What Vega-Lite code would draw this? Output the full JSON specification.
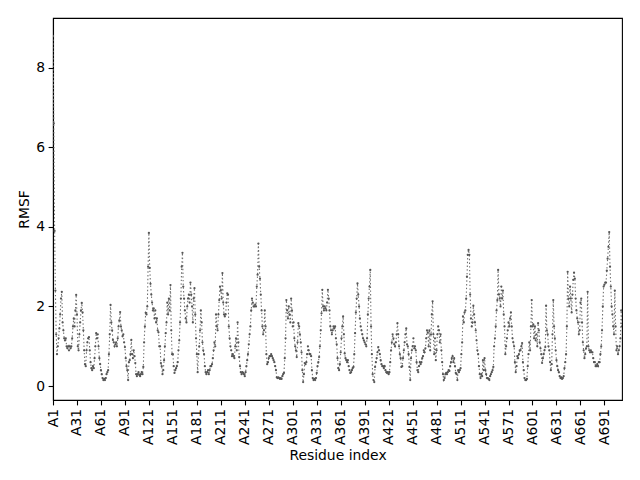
{
"$schema": "https://vega.github.io/schema/vega-lite/v6.json",
"width": 569, "height": 382,
"autosize": {"type": "none"},
"padding": {"left": 53, "top": 18, "right": 18, "bottom": 80},
"background": "white",
"config": {"font": "DejaVu Sans", "view": {"stroke": "black", "strokeWidth": 1.1},
 "axis": {"grid": false, "domainColor": "black", "domainWidth": 1.1, "tickColor": "black", "tickWidth": 1.1, "tickSize": 4.9, "labelColor": "black", "titleColor": "black", "labelFontSize": 13.9, "titleFontSize": 13.9, "titleFontWeight": "normal", "labelPadding": 3.5, "titlePadding": 4}},
"data": {"values": [
{"r":1,"v":8.8},{"r":2,"v":6.6},{"r":3,"v":3.9},{"r":4,"v":2.4},{"r":5,"v":1.3},{"r":6,"v":0.8},{"r":7,"v":1.0},{"r":8,"v":1.2},{"r":9,"v":1.45},{"r":10,"v":1.8},
{"r":11,"v":2.2},{"r":12,"v":2.37},{"r":13,"v":1.6},{"r":14,"v":1.4},{"r":15,"v":1.2},{"r":16,"v":1.15},{"r":17,"v":1.2},{"r":18,"v":1.0},{"r":19,"v":0.95},{"r":20,"v":1.0},
{"r":21,"v":0.9},{"r":22,"v":1.0},{"r":23,"v":0.95},{"r":24,"v":1.0},{"r":25,"v":1.2},{"r":26,"v":1.5},{"r":27,"v":1.7},{"r":28,"v":1.5},{"r":29,"v":1.9},{"r":30,"v":2.29},
{"r":31,"v":1.8},{"r":32,"v":1.0},{"r":33,"v":0.9},{"r":34,"v":1.3},{"r":35,"v":1.6},{"r":36,"v":1.9},{"r":37,"v":2.09},{"r":38,"v":1.85},{"r":39,"v":1.4},{"r":40,"v":0.9},
{"r":41,"v":0.55},{"r":42,"v":0.5},{"r":43,"v":0.9},{"r":44,"v":1.1},{"r":45,"v":1.2},{"r":46,"v":1.23},{"r":47,"v":0.9},{"r":48,"v":0.6},{"r":49,"v":0.45},{"r":50,"v":0.4},
{"r":51,"v":0.5},{"r":52,"v":0.45},{"r":53,"v":0.7},{"r":54,"v":1.0},{"r":55,"v":1.33},{"r":56,"v":1.2},{"r":57,"v":1.3},{"r":58,"v":1.0},{"r":59,"v":0.7},{"r":60,"v":0.55},
{"r":61,"v":0.4},{"r":62,"v":0.3},{"r":63,"v":0.2},{"r":64,"v":0.15},{"r":65,"v":0.18},{"r":66,"v":0.15},{"r":67,"v":0.2},{"r":68,"v":0.3},{"r":69,"v":0.35},{"r":70,"v":0.4},
{"r":71,"v":0.8},{"r":72,"v":1.3},{"r":73,"v":2.04},{"r":74,"v":1.6},{"r":75,"v":1.4},{"r":76,"v":1.16},{"r":77,"v":1.1},{"r":78,"v":1.0},{"r":79,"v":1.05},{"r":80,"v":1.1},
{"r":81,"v":1.0},{"r":82,"v":1.2},{"r":83,"v":1.5},{"r":84,"v":1.65},{"r":85,"v":1.86},{"r":86,"v":1.5},{"r":87,"v":1.4},{"r":88,"v":1.25},{"r":89,"v":1.3},{"r":90,"v":1.1},
{"r":91,"v":0.98},{"r":92,"v":0.7},{"r":93,"v":0.5},{"r":94,"v":0.4},{"r":95,"v":0.15},{"r":96,"v":0.6},{"r":97,"v":0.65},{"r":98,"v":0.8},{"r":99,"v":1.16},{"r":100,"v":0.8},
{"r":101,"v":0.7},{"r":102,"v":0.9},{"r":103,"v":0.75},{"r":104,"v":0.58},{"r":105,"v":0.3},{"r":106,"v":0.25},{"r":107,"v":0.3},{"r":108,"v":0.35},{"r":109,"v":0.28},{"r":110,"v":0.25},
{"r":111,"v":0.3},{"r":112,"v":0.35},{"r":113,"v":0.3},{"r":114,"v":0.48},{"r":115,"v":1.1},{"r":116,"v":1.5},{"r":117,"v":1.84},{"r":118,"v":1.8},{"r":119,"v":2.0},{"r":120,"v":3.0},
{"r":121,"v":3.85},{"r":122,"v":2.97},{"r":123,"v":2.57},{"r":124,"v":2.3},{"r":125,"v":2.1},{"r":126,"v":1.9},{"r":127,"v":1.95},{"r":128,"v":1.7},{"r":129,"v":1.9},{"r":130,"v":1.6},
{"r":131,"v":1.7},{"r":132,"v":1.4},{"r":133,"v":1.35},{"r":134,"v":1.0},{"r":135,"v":1.0},{"r":136,"v":0.58},{"r":137,"v":0.5},{"r":138,"v":0.3},{"r":139,"v":0.4},{"r":140,"v":0.65},
{"r":141,"v":1.0},{"r":142,"v":1.33},{"r":143,"v":1.6},{"r":144,"v":2.1},{"r":145,"v":1.8},{"r":146,"v":2.2},{"r":147,"v":1.9},{"r":148,"v":2.54},{"r":149,"v":1.4},{"r":150,"v":0.8},
{"r":151,"v":0.8},{"r":152,"v":0.5},{"r":153,"v":0.33},{"r":154,"v":0.4},{"r":155,"v":0.45},{"r":156,"v":0.5},{"r":157,"v":0.6},{"r":158,"v":0.9},{"r":159,"v":1.15},{"r":160,"v":1.6},
{"r":161,"v":2.2},{"r":162,"v":3.0},{"r":163,"v":3.35},{"r":164,"v":2.5},{"r":165,"v":2.2},{"r":166,"v":1.9},{"r":167,"v":1.7},{"r":168,"v":1.6},{"r":169,"v":2.0},{"r":170,"v":2.2},
{"r":171,"v":2.3},{"r":172,"v":2.1},{"r":173,"v":2.6},{"r":174,"v":2.3},{"r":175,"v":2.0},{"r":176,"v":1.6},{"r":177,"v":2.2},{"r":178,"v":2.46},{"r":179,"v":1.8},{"r":180,"v":1.2},
{"r":181,"v":0.8},{"r":182,"v":0.35},{"r":183,"v":0.8},{"r":184,"v":1.0},{"r":185,"v":1.4},{"r":186,"v":1.9},{"r":187,"v":1.6},{"r":188,"v":1.1},{"r":189,"v":0.9},{"r":190,"v":0.8},
{"r":191,"v":0.5},{"r":192,"v":0.35},{"r":193,"v":0.3},{"r":194,"v":0.35},{"r":195,"v":0.4},{"r":196,"v":0.3},{"r":197,"v":0.4},{"r":198,"v":0.5},{"r":199,"v":0.5},{"r":200,"v":0.55},
{"r":201,"v":0.7},{"r":202,"v":0.9},{"r":203,"v":1.1},{"r":204,"v":1.0},{"r":205,"v":1.8},{"r":206,"v":1.5},{"r":207,"v":1.4},{"r":208,"v":1.8},{"r":209,"v":2.16},{"r":210,"v":2.5},
{"r":211,"v":2.4},{"r":212,"v":2.2},{"r":213,"v":2.84},{"r":214,"v":2.1},{"r":215,"v":1.8},{"r":216,"v":1.75},{"r":217,"v":1.8},{"r":218,"v":2.1},{"r":219,"v":2.33},{"r":220,"v":2.3},
{"r":221,"v":1.5},{"r":222,"v":1.2},{"r":223,"v":1.0},{"r":224,"v":0.9},{"r":225,"v":0.75},{"r":226,"v":0.8},{"r":227,"v":0.75},{"r":228,"v":0.7},{"r":229,"v":1.0},{"r":230,"v":1.2},
{"r":231,"v":0.9},{"r":232,"v":1.6},{"r":233,"v":1.1},{"r":234,"v":0.73},{"r":235,"v":0.5},{"r":236,"v":0.35},{"r":237,"v":0.3},{"r":238,"v":0.35},{"r":239,"v":0.33},{"r":240,"v":0.3},
{"r":241,"v":0.25},{"r":242,"v":0.35},{"r":243,"v":0.5},{"r":244,"v":0.65},{"r":245,"v":0.8},{"r":246,"v":1.05},{"r":247,"v":1.3},{"r":248,"v":1.5},{"r":249,"v":1.9},{"r":250,"v":2.2},
{"r":251,"v":2.1},{"r":252,"v":2.0},{"r":253,"v":2.0},{"r":254,"v":2.05},{"r":255,"v":2.0},{"r":256,"v":2.5},{"r":257,"v":2.8},{"r":258,"v":3.58},{"r":259,"v":3.0},{"r":260,"v":2.7},
{"r":261,"v":2.3},{"r":262,"v":1.9},{"r":263,"v":1.5},{"r":264,"v":1.3},{"r":265,"v":1.4},{"r":266,"v":1.9},{"r":267,"v":1.5},{"r":268,"v":0.8},{"r":269,"v":0.55},{"r":270,"v":0.6},
{"r":271,"v":0.7},{"r":272,"v":0.75},{"r":273,"v":0.75},{"r":274,"v":0.8},{"r":275,"v":0.75},{"r":276,"v":0.7},{"r":277,"v":0.65},{"r":278,"v":0.6},{"r":279,"v":0.5},{"r":280,"v":0.4},
{"r":281,"v":0.22},{"r":282,"v":0.2},{"r":283,"v":0.22},{"r":284,"v":0.2},{"r":285,"v":0.18},{"r":286,"v":0.2},{"r":287,"v":0.18},{"r":288,"v":0.25},{"r":289,"v":0.3},{"r":290,"v":0.33},
{"r":291,"v":0.7},{"r":292,"v":1.2},{"r":293,"v":2.16},{"r":294,"v":1.9},{"r":295,"v":1.7},{"r":296,"v":2.0},{"r":297,"v":1.8},{"r":298,"v":1.6},{"r":299,"v":2.2},{"r":300,"v":1.9},
{"r":301,"v":1.5},{"r":302,"v":1.6},{"r":303,"v":1.2},{"r":304,"v":1.0},{"r":305,"v":0.9},{"r":306,"v":0.73},{"r":307,"v":1.1},{"r":308,"v":1.58},{"r":309,"v":1.5},{"r":310,"v":1.3},
{"r":311,"v":1.1},{"r":312,"v":0.85},{"r":313,"v":0.4},{"r":314,"v":0.1},{"r":315,"v":0.3},{"r":316,"v":0.58},{"r":317,"v":0.55},{"r":318,"v":0.6},{"r":319,"v":0.8},{"r":320,"v":1.0},
{"r":321,"v":0.9},{"r":322,"v":0.8},{"r":323,"v":0.8},{"r":324,"v":0.75},{"r":325,"v":0.4},{"r":326,"v":0.2},{"r":327,"v":0.15},{"r":328,"v":0.18},{"r":329,"v":0.15},{"r":330,"v":0.2},
{"r":331,"v":0.33},{"r":332,"v":0.5},{"r":333,"v":0.6},{"r":334,"v":0.73},{"r":335,"v":1.0},{"r":336,"v":1.4},{"r":337,"v":1.83},{"r":338,"v":2.42},{"r":339,"v":2.0},{"r":340,"v":1.9},
{"r":341,"v":2.0},{"r":342,"v":1.95},{"r":343,"v":1.9},{"r":344,"v":2.1},{"r":345,"v":2.42},{"r":346,"v":2.2},{"r":347,"v":1.9},{"r":348,"v":1.5},{"r":349,"v":1.4},{"r":350,"v":1.3},
{"r":351,"v":1.4},{"r":352,"v":1.5},{"r":353,"v":1.45},{"r":354,"v":1.5},{"r":355,"v":1.2},{"r":356,"v":1.05},{"r":357,"v":0.7},{"r":358,"v":0.45},{"r":359,"v":0.4},{"r":360,"v":0.55},
{"r":361,"v":0.85},{"r":362,"v":1.2},{"r":363,"v":1.5},{"r":364,"v":1.75},{"r":365,"v":1.3},{"r":366,"v":0.82},{"r":367,"v":0.7},{"r":368,"v":0.65},{"r":369,"v":0.6},{"r":370,"v":0.65},
{"r":371,"v":0.5},{"r":372,"v":0.4},{"r":373,"v":0.33},{"r":374,"v":0.35},{"r":375,"v":0.4},{"r":376,"v":0.45},{"r":377,"v":0.48},{"r":378,"v":0.8},{"r":379,"v":1.33},{"r":380,"v":1.85},
{"r":381,"v":2.2},{"r":382,"v":2.58},{"r":383,"v":2.3},{"r":384,"v":2.0},{"r":385,"v":1.7},{"r":386,"v":1.5},{"r":387,"v":1.4},{"r":388,"v":1.3},{"r":389,"v":1.2},{"r":390,"v":1.15},
{"r":391,"v":1.1},{"r":392,"v":1.05},{"r":393,"v":1.0},{"r":394,"v":1.2},{"r":395,"v":1.8},{"r":396,"v":2.2},{"r":397,"v":2.5},{"r":398,"v":2.92},{"r":399,"v":1.5},{"r":400,"v":0.8},
{"r":401,"v":0.3},{"r":402,"v":0.15},{"r":403,"v":0.1},{"r":404,"v":0.48},{"r":405,"v":0.6},{"r":406,"v":0.7},{"r":407,"v":0.85},{"r":408,"v":0.98},{"r":409,"v":0.9},{"r":410,"v":0.8},
{"r":411,"v":0.65},{"r":412,"v":0.55},{"r":413,"v":0.5},{"r":414,"v":0.5},{"r":415,"v":0.45},{"r":416,"v":0.5},{"r":417,"v":0.4},{"r":418,"v":0.35},{"r":419,"v":0.33},{"r":420,"v":0.35},
{"r":421,"v":0.3},{"r":422,"v":0.35},{"r":423,"v":0.6},{"r":424,"v":0.9},{"r":425,"v":1.1},{"r":426,"v":1.3},{"r":427,"v":1.2},{"r":428,"v":1.05},{"r":429,"v":1.0},{"r":430,"v":1.1},
{"r":431,"v":1.3},{"r":432,"v":1.58},{"r":433,"v":1.3},{"r":434,"v":1.0},{"r":435,"v":0.8},{"r":436,"v":0.7},{"r":437,"v":0.48},{"r":438,"v":0.5},{"r":439,"v":0.7},{"r":440,"v":0.9},
{"r":441,"v":1.1},{"r":442,"v":1.3},{"r":443,"v":1.45},{"r":444,"v":1.05},{"r":445,"v":1.0},{"r":446,"v":0.8},{"r":447,"v":0.48},{"r":448,"v":0.15},{"r":449,"v":0.7},{"r":450,"v":0.9},
{"r":451,"v":1.0},{"r":452,"v":1.2},{"r":453,"v":0.95},{"r":454,"v":1.0},{"r":455,"v":0.9},{"r":456,"v":0.6},{"r":457,"v":0.4},{"r":458,"v":0.35},{"r":459,"v":0.5},{"r":460,"v":0.6},
{"r":461,"v":0.55},{"r":462,"v":0.6},{"r":463,"v":0.7},{"r":464,"v":0.75},{"r":465,"v":0.9},{"r":466,"v":0.85},{"r":467,"v":0.95},{"r":468,"v":1.2},{"r":469,"v":1.4},{"r":470,"v":1.35},
{"r":471,"v":1.0},{"r":472,"v":1.4},{"r":473,"v":0.9},{"r":474,"v":1.3},{"r":475,"v":1.8},{"r":476,"v":2.13},{"r":477,"v":1.3},{"r":478,"v":0.8},{"r":479,"v":1.2},{"r":480,"v":0.65},
{"r":481,"v":0.9},{"r":482,"v":1.3},{"r":483,"v":1.5},{"r":484,"v":1.4},{"r":485,"v":1.1},{"r":486,"v":1.3},{"r":487,"v":0.9},{"r":488,"v":0.6},{"r":489,"v":0.3},{"r":490,"v":0.15},
{"r":491,"v":0.2},{"r":492,"v":0.3},{"r":493,"v":0.33},{"r":494,"v":0.3},{"r":495,"v":0.35},{"r":496,"v":0.4},{"r":497,"v":0.38},{"r":498,"v":0.5},{"r":499,"v":0.6},{"r":500,"v":0.7},
{"r":501,"v":0.75},{"r":502,"v":0.6},{"r":503,"v":0.7},{"r":504,"v":0.5},{"r":505,"v":0.33},{"r":506,"v":0.3},{"r":507,"v":0.15},{"r":508,"v":0.4},{"r":509,"v":0.35},{"r":510,"v":0.4},
{"r":511,"v":0.45},{"r":512,"v":0.8},{"r":513,"v":1.1},{"r":514,"v":1.75},{"r":515,"v":1.6},{"r":516,"v":1.85},{"r":517,"v":1.9},{"r":518,"v":2.2},{"r":519,"v":2.75},{"r":520,"v":3.3},
{"r":521,"v":3.42},{"r":522,"v":3.3},{"r":523,"v":2.3},{"r":524,"v":1.7},{"r":525,"v":1.5},{"r":526,"v":1.6},{"r":527,"v":2.02},{"r":528,"v":1.8},{"r":529,"v":1.6},{"r":530,"v":1.4},
{"r":531,"v":1.15},{"r":532,"v":0.9},{"r":533,"v":0.8},{"r":534,"v":0.5},{"r":535,"v":0.3},{"r":536,"v":0.2},{"r":537,"v":0.3},{"r":538,"v":0.25},{"r":539,"v":0.65},{"r":540,"v":0.4},
{"r":541,"v":0.7},{"r":542,"v":0.4},{"r":543,"v":0.3},{"r":544,"v":0.2},{"r":545,"v":0.2},{"r":546,"v":0.18},{"r":547,"v":0.15},{"r":548,"v":0.25},{"r":549,"v":0.3},{"r":550,"v":0.35},
{"r":551,"v":0.4},{"r":552,"v":0.48},{"r":553,"v":1.0},{"r":554,"v":1.2},{"r":555,"v":1.5},{"r":556,"v":1.9},{"r":557,"v":2.16},{"r":558,"v":2.92},{"r":559,"v":2.3},{"r":560,"v":2.2},
{"r":561,"v":2.0},{"r":562,"v":2.5},{"r":563,"v":2.2},{"r":564,"v":2.4},{"r":565,"v":1.8},{"r":566,"v":1.5},{"r":567,"v":0.8},{"r":568,"v":1.0},{"r":569,"v":1.2},{"r":570,"v":1.4},
{"r":571,"v":1.6},{"r":572,"v":1.5},{"r":573,"v":1.7},{"r":574,"v":1.85},{"r":575,"v":1.5},{"r":576,"v":1.2},{"r":577,"v":1.1},{"r":578,"v":1.0},{"r":579,"v":0.6},{"r":580,"v":0.35},
{"r":581,"v":0.5},{"r":582,"v":0.75},{"r":583,"v":0.7},{"r":584,"v":0.8},{"r":585,"v":0.9},{"r":586,"v":0.9},{"r":587,"v":1.0},{"r":588,"v":1.08},{"r":589,"v":0.6},{"r":590,"v":0.4},
{"r":591,"v":0.2},{"r":592,"v":0.15},{"r":593,"v":0.15},{"r":594,"v":0.18},{"r":595,"v":0.5},{"r":596,"v":0.8},{"r":597,"v":1.1},{"r":598,"v":0.9},{"r":599,"v":1.5},{"r":600,"v":2.16},
{"r":601,"v":1.5},{"r":602,"v":1.55},{"r":603,"v":1.2},{"r":604,"v":1.5},{"r":605,"v":1.15},{"r":606,"v":1.3},{"r":607,"v":1.0},{"r":608,"v":1.58},{"r":609,"v":1.4},{"r":610,"v":1.1},
{"r":611,"v":0.95},{"r":612,"v":0.8},{"r":613,"v":0.58},{"r":614,"v":0.7},{"r":615,"v":0.8},{"r":616,"v":0.9},{"r":617,"v":0.98},{"r":618,"v":2.02},{"r":619,"v":1.4},{"r":620,"v":1.3},
{"r":621,"v":1.0},{"r":622,"v":0.9},{"r":623,"v":0.6},{"r":624,"v":0.4},{"r":625,"v":0.55},{"r":626,"v":1.3},{"r":627,"v":2.16},{"r":628,"v":1.5},{"r":629,"v":1.2},{"r":630,"v":0.9},
{"r":631,"v":0.65},{"r":632,"v":0.5},{"r":633,"v":0.4},{"r":634,"v":0.35},{"r":635,"v":0.25},{"r":636,"v":0.2},{"r":637,"v":0.22},{"r":638,"v":0.18},{"r":639,"v":0.2},{"r":640,"v":0.25},
{"r":641,"v":0.45},{"r":642,"v":0.6},{"r":643,"v":0.8},{"r":644,"v":1.5},{"r":645,"v":2.87},{"r":646,"v":2.2},{"r":647,"v":2.0},{"r":648,"v":2.5},{"r":649,"v":2.2},{"r":650,"v":1.85},
{"r":651,"v":2.3},{"r":652,"v":2.67},{"r":653,"v":2.85},{"r":654,"v":2.7},{"r":655,"v":2.2},{"r":656,"v":1.9},{"r":657,"v":1.7},{"r":658,"v":1.6},{"r":659,"v":1.3},{"r":660,"v":1.4},
{"r":661,"v":2.1},{"r":662,"v":2.2},{"r":663,"v":1.6},{"r":664,"v":1.1},{"r":665,"v":0.9},{"r":666,"v":0.7},{"r":667,"v":0.8},{"r":668,"v":0.95},{"r":669,"v":1.0},{"r":670,"v":2.37},
{"r":671,"v":1.0},{"r":672,"v":0.9},{"r":673,"v":0.85},{"r":674,"v":0.9},{"r":675,"v":0.85},{"r":676,"v":0.85},{"r":677,"v":0.7},{"r":678,"v":0.6},{"r":679,"v":0.6},{"r":680,"v":0.5},
{"r":681,"v":0.5},{"r":682,"v":0.55},{"r":683,"v":0.5},{"r":684,"v":0.6},{"r":685,"v":0.6},{"r":686,"v":0.8},{"r":687,"v":1.0},{"r":688,"v":1.4},{"r":689,"v":2.0},{"r":690,"v":2.5},
{"r":691,"v":2.55},{"r":692,"v":2.6},{"r":693,"v":2.6},{"r":694,"v":2.9},{"r":695,"v":3.2},{"r":696,"v":3.5},{"r":697,"v":3.87},{"r":698,"v":3.0},{"r":699,"v":2.5},{"r":700,"v":2.0},
{"r":701,"v":1.8},{"r":702,"v":1.5},{"r":703,"v":1.3},{"r":704,"v":2.4},{"r":705,"v":1.5},{"r":706,"v":0.9},{"r":707,"v":1.0},{"r":708,"v":0.8},{"r":709,"v":0.9},{"r":710,"v":1.0},
{"r":711,"v":1.2},{"r":712,"v":1.9},{"r":713,"v":1.5}
]},
"encoding": {
 "x": {"field": "r", "type": "quantitative", "title": "Residue index",
  "scale": {"domain": [1, 713], "nice": false, "zero": false},
  "axis": {"values": [1,31,61,91,121,151,181,211,241,271,301,331,361,391,421,451,481,511,541,571,601,631,661,691], "labelExpr": "'A' + datum.value", "labelAngle": -90, "labelAlign": "right", "labelBaseline": "middle", "labelFlush": false, "labelOverlap": false}},
 "y": {"field": "v", "type": "quantitative", "title": "RMSF",
  "scale": {"domain": [-0.35, 9.25], "nice": false, "zero": false},
  "axis": {"values": [0,2,4,6,8], "format": "d"}}
},
"layer": [
 {"mark": {"type": "line", "color": "#6e6e6e", "strokeWidth": 1.1, "strokeDash": [1.4, 2.3], "clip": true}},
 {"mark": {"type": "point", "filled": true, "color": "#555555", "size": 5, "opacity": 1, "clip": true}}
]
}
